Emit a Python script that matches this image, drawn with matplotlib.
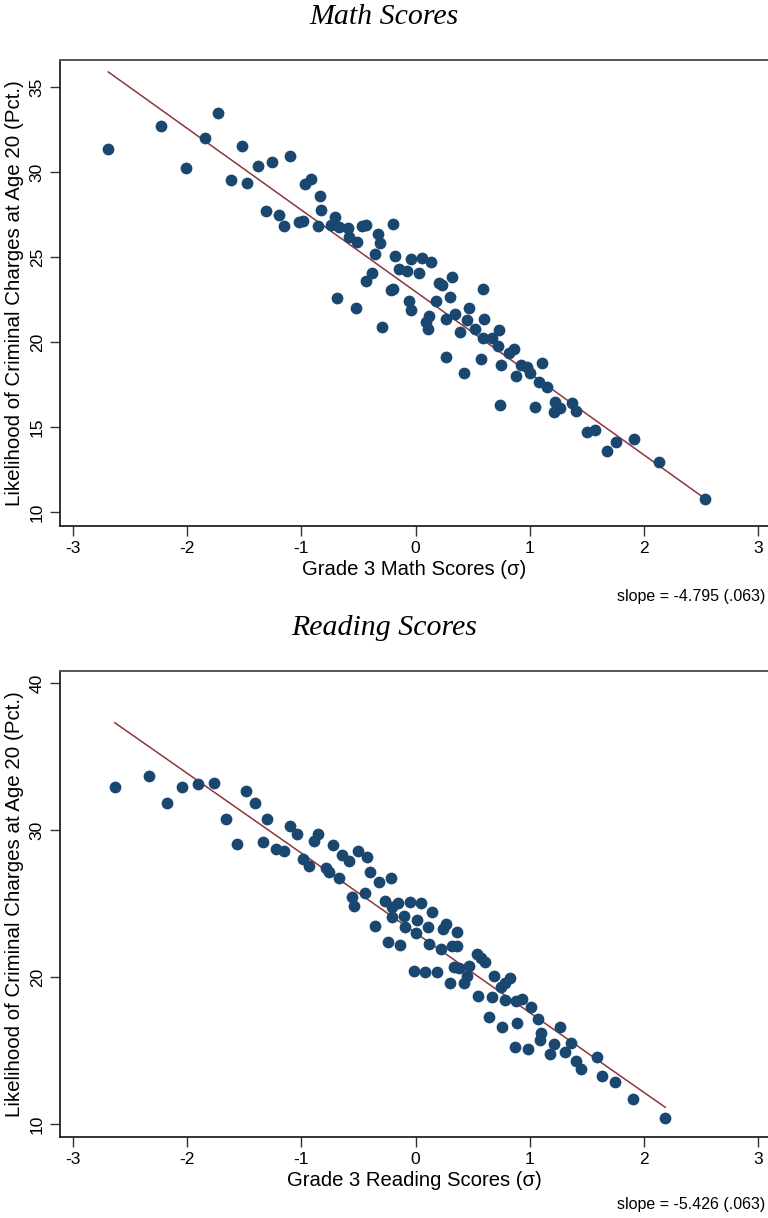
import matplotlib
matplotlib.use("Agg")
import matplotlib.pyplot as plt
import numpy as np

plt.rcParams['font.family'] = ['Liberation Sans', 'DejaVu Sans']
plt.rcParams['axes.unicode_minus'] = False

# binned scatter: grade 3 math score vs. share charged by age 20
math_x = [-2.694, -2.233, -1.734, -1.845, -2.014, -1.524, -1.62, -1.474, -1.377, -1.258,
          -1.103, -0.969, -0.919, -0.838, -0.832, -1.313, -1.197, -1.150, -1.018, -0.989,
          -0.852, -0.703, -0.738, -0.671, -0.593, -0.584, -0.686, -0.517, -0.467, -0.438,
          -0.33, -0.312, -0.195, -0.356, -0.385, -0.432, -0.178, -0.146, -0.073, -0.044,
          0.029, 0.061, 0.137, -0.219, -0.195, 0.204, 0.234, 0.321, 0.589, -0.525,
          -0.292, -0.058, -0.041, 0.117, 0.096, 0.108, 0.178, 0.301, 0.467, 0.342,
          0.271, 0.447, 0.394, 0.525, 0.598, 0.736, 0.589, 0.671, 0.721, 0.817,
          0.861, 0.263, 0.578, 0.423, 0.750, 0.882, 0.925, 0.978, 1.001, 1.109,
          1.08, 1.153, 0.738, 1.051, 1.226, 1.217, 1.264, 1.372, 1.41, 1.503,
          1.576, 1.678, 1.76, 1.918, 2.131, 2.539]
math_y = [31.35, 32.74, 33.49, 32.0, 30.27, 31.55, 29.53, 29.35, 30.37, 30.62,
          30.98, 29.31, 29.59, 28.59, 27.76, 27.7, 27.49, 26.84, 27.06, 27.15,
          26.86, 27.35, 26.88, 26.8, 26.71, 26.18, 22.59, 25.88, 26.86, 26.9,
          26.35, 25.82, 26.98, 25.18, 24.09, 23.62, 25.08, 24.29, 24.21, 24.88,
          24.06, 24.94, 24.74, 23.08, 23.15, 23.47, 23.37, 23.82, 23.12, 22.04,
          20.92, 22.43, 21.90, 21.55, 21.21, 20.8, 22.45, 22.65, 22.04, 21.66,
          21.39, 21.31, 20.62, 20.78, 21.35, 20.72, 20.27, 20.24, 19.78, 19.39,
          19.59, 19.12, 19.0, 18.18, 18.66, 18.02, 18.66, 18.53, 18.21, 18.76,
          17.68, 17.35, 16.31, 16.18, 16.5, 15.92, 16.12, 16.45, 15.98, 14.71,
          14.84, 13.61, 14.12, 14.29, 12.98, 10.76]

# same for grade 3 reading
read_x = [-2.636, -2.335, -2.178, -2.044, -1.907, -1.767, -1.484, -1.406, -1.659, -1.30,
          -1.566, -1.333, -1.222, -1.155, -1.097, -1.038, -0.983, -0.931, -0.887, -0.852,
          -0.785, -0.756, -0.721, -0.668, -0.647, -0.581, -0.502, -0.426, -0.40, -0.318,
          -0.216, -0.443, -0.557, -0.537, -0.353, -0.245, -0.266, -0.21, -0.207, -0.157,
          -0.135, -0.1, -0.047, -0.094, 0.003, 0.046, 0.017, -0.017, 0.081, 0.192,
          0.108, 0.14, 0.122, 0.221, 0.239, 0.265, 0.364, 0.324, 0.361, 0.30,
          0.338, 0.381, 0.469, 0.455, 0.425, 0.536, 0.571, 0.609, 0.548, 0.685,
          0.673, 0.644, 0.761, 0.746, 0.781, 0.828, 0.781, 0.877, 0.936, 0.892,
          0.869, 0.985, 1.008, 1.076, 1.102, 1.09, 1.183, 1.212, 1.265, 1.306,
          1.364, 1.408, 1.452, 1.592, 1.636, 1.752, 1.903, 2.189]
read_y = [32.92, 33.71, 31.83, 32.92, 33.15, 33.23, 32.69, 31.87, 30.76, 30.74,
          29.06, 29.2, 28.70, 28.6, 30.31, 29.72, 28.06, 27.58, 29.26, 29.74,
          27.41, 27.15, 28.97, 26.75, 28.31, 27.92, 28.58, 28.15, 27.17, 26.45,
          26.72, 25.75, 25.43, 24.86, 23.50, 22.37, 25.2, 24.79, 24.11, 25.02,
          22.18, 24.16, 25.09, 23.39, 22.98, 25.06, 23.89, 20.41, 20.37, 20.37,
          23.41, 24.41, 22.25, 21.89, 23.25, 23.59, 23.09, 22.12, 22.12, 19.62,
          20.67, 20.6, 20.76, 20.07, 19.58, 21.57, 21.28, 21.05, 18.71, 20.10,
          18.67, 17.26, 16.62, 19.35, 19.62, 19.96, 18.44, 18.37, 18.49, 16.89,
          15.26, 15.1, 17.94, 17.15, 16.17, 15.72, 14.76, 15.45, 16.58, 14.92,
          15.53, 14.31, 13.72, 14.58, 13.27, 12.88, 11.70, 10.43]

# OLS fits (intercept, slope, se)
math_fit = (22.98, -4.795, 0.063)
read_fit = (23.01, -5.426, 0.063)

NAVY = '#1a476f'
MAROON = '#90353b'

fig = plt.figure(figsize=(7.68, 12.18), dpi=100)


def panel(rect, x, y, fit, ylim, yticks, title, xlabel, title_y, slope_y):
    ax = fig.add_axes(rect)
    ax.scatter(x, y, s=72, color=NAVY, linewidths=0, zorder=3)
    a, b, se = fit
    xx = np.array([min(x), max(x)])
    ax.plot(xx, a + b * xx, color=MAROON, lw=1.1, zorder=2)

    ax.set_xlim(-3.117, 3.09)
    ax.set_ylim(*ylim)
    ax.set_xticks([-3, -2, -1, 0, 1, 2, 3])
    ax.set_yticks(yticks)
    ax.tick_params(axis='both', direction='out', length=7, width=1.0,
                   color='#333333', labelsize=12.5, pad=4)
    for lab in ax.get_yticklabels():
        lab.set_rotation(90)
        lab.set_va('center')
    ax.spines['right'].set_visible(False)
    ax.spines['top'].set_color('#555555')
    ax.spines['top'].set_linewidth(1.4)
    for s in ('left', 'bottom'):
        ax.spines[s].set_color('#111111')
        ax.spines[s].set_linewidth(1.2)

    ax.set_xlabel(xlabel, fontsize=14.6, labelpad=3)
    ax.set_ylabel('Likelihood of Criminal Charges at Age 20 (Pct.)', fontsize=14.8,
                  labelpad=4)
    fig.text(0.5, title_y, title, ha='center', va='center', fontsize=21.5,
             family='Liberation Serif', style='italic')
    fig.text(0.997, slope_y, 'slope = %.3f (%s)' % (b, ('%.3f' % se)[1:]),
             ha='right', va='center', fontsize=11.5)
    return ax


panel([60 / 768, 1 - 526 / 1218, 708 / 768, 466 / 1218], math_x, math_y, math_fit,
      (9.2, 36.6), [10, 15, 20, 25, 30, 35], 'Math Scores',
      u'Grade 3 Math Scores (\u03c3)', 1 - 17 / 1218, 1 - 596 / 1218)

panel([60 / 768, 1 - 1136.7 / 1218, 708 / 768, 466 / 1218], read_x, read_y, read_fit,
      (9.13, 40.86), [10, 20, 30, 40], 'Reading Scores',
      u'Grade 3 Reading Scores (\u03c3)', 1 - 628 / 1218, 1 - 1204 / 1218)

fig.savefig('out.png', dpi=100)
